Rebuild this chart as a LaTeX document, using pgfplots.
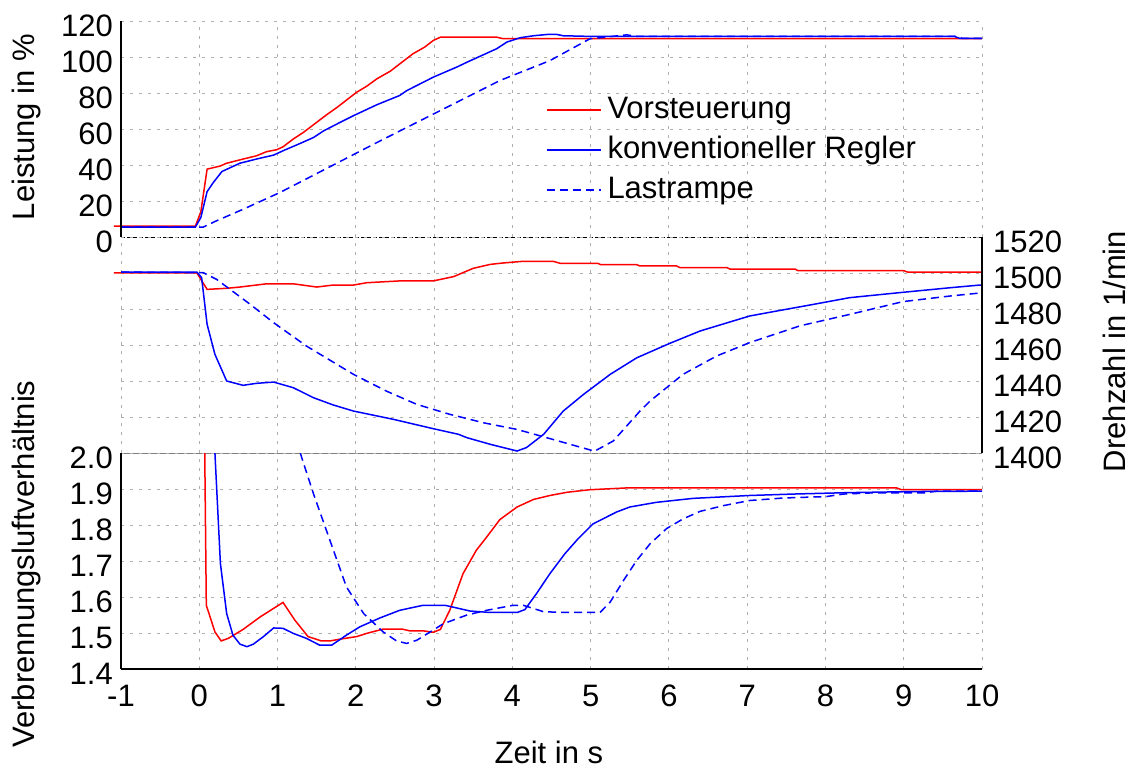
\documentclass[border=0pt]{standalone}
\usepackage{fontspec}
\setmainfont{Liberation Sans}
\usepackage{pgfplots}
\pgfplotsset{compat=1.18}
\newcommand\bigfont{\fontsize{31}{37}\selectfont}
\definecolor{gridgray}{RGB}{175,175,175}
\pgfplotsset{
  panel/.style={
    scale only axis, width=861pt, height=216pt,
    xmin=-1, xmax=10, xtick={-1,0,...,10},
    axis line style={draw=none}, major tick length=0pt,
    grid=major, grid style={gridgray, line width=0.9pt, dash pattern=on 3pt off 6pt},
    clip=false,
    every tick label/.append style={font=\bigfont},
    yticklabel style={inner sep=0pt, yshift=-5pt},
  },
  red line/.style={color={rgb,255:red,255;green,0;blue,0}, line width=1.5pt},
  blue line/.style={color={rgb,255:red,0;green,0;blue,255}, line width=1.5pt},
  blue dash/.style={color={rgb,255:red,0;green,0;blue,255}, line width=1.5pt, dash pattern=on 8pt off 5pt},
}
\begin{document}
\begin{tikzpicture}
\useasboundingbox (0,0) rectangle (1132pt,769pt);
% ---------------- top panel: Leistung
\begin{axis}[panel, at={(121pt,532pt)}, anchor=south west,
  ymin=0, ymax=120, ytick={0,20,...,120}, yticklabels={0,20,40,60,80,100,120},
  xticklabels={},
  yticklabel style={anchor=east, xshift=-8pt},
  ylabel={Leistung in \%},
  every axis y label/.style={at={(axis description cs:-0.1007,0.509)}, rotate=90, anchor=base, font=\bigfont, inner sep=0pt},
  legend style={at={(axis description cs:0.4936,0.652)}, anchor=north west, draw=none, fill=none,
    inner sep=0pt, outer sep=0pt, row sep=10pt, column sep=6pt, font=\bigfont,
    nodes={inner sep=0pt, text height=22pt, text depth=8pt}},
  legend cell align=left,
  legend image code/.code={\draw[#1] (0pt,1pt) -- (54pt,1pt);},
]
\addplot[red line] coordinates {(-1.09,6) (-0.05,6) (0.02,14) (0.10,37.7) (0.265,39.4) (0.35,41) (0.56,43.3) (0.73,45.1) (0.86,47.4) (0.99,48.5) (1.07,50.1) (1.20,54.4) (1.33,58.1) (1.63,68) (1.76,72) (2.01,80.4) (2.14,83.8) (2.27,87.9) (2.44,92.1) (2.73,101.8) (2.88,105.5) (2.99,109.2) (3.08,111) (3.80,111) (3.88,110.2) (10,110.2)};
\addlegendentry{Vorsteuerung}
\addplot[blue line] coordinates {(-1,5.5) (-0.05,5.5) (0.02,10.8) (0.10,25.2) (0.18,30.3) (0.29,36.4) (0.52,41) (0.73,43.3) (0.95,45.5) (1.07,47.9) (1.29,52) (1.46,55.3) (1.59,59) (1.80,63.7) (1.97,67.4) (2.27,73.5) (2.56,78.6) (2.65,81.3) (2.99,88.8) (3.29,94.4) (3.42,97.1) (3.80,104.6) (3.93,108.3) (4.10,110.7) (4.27,111.8) (4.44,112.5) (4.57,112.5) (4.65,111.8) (5.03,111.4) (9.65,111.4) (9.72,110.3) (10,110.3)};
\addlegendentry{konventioneller Regler}
\addplot[blue dash] coordinates {(-1,5.5) (0.05,5.5) (0.22,9) (0.56,15.4) (1.03,24.7) (2.27,52.5) (3.84,86.9) (4.48,98) (4.99,110.1) (5.46,112.3) (5.6,111.4) (9.68,111.4) (9.75,110.3) (10,110.3)};
\addlegendentry{Lastrampe}
\draw[black, line width=1.2pt] (rel axis cs:0,0) -- (rel axis cs:0,1);
\draw[black, line width=0.8pt, dash pattern=on 4pt off 2pt] (rel axis cs:0,0) -- (rel axis cs:1,0);
\end{axis}
% ---------------- middle panel: Drehzahl
\begin{axis}[panel, at={(121pt,316pt)}, anchor=south west,
  ymin=1400, ymax=1520, ytick={1400,1420,...,1520}, yticklabels={1400,1420,1440,1460,1480,1500,1520},
  xticklabels={},
  yticklabel pos=right,
  yticklabel style={anchor=west, xshift=11pt},
  ylabel={Drehzahl in 1/min},
  every axis y label/.style={at={(axis description cs:1.1661,0.47)}, rotate=90, anchor=base, font=\bigfont, inner sep=0pt},
]
\addplot[red line] coordinates {(-1.09,1500) (-0.03,1500) (0.10,1490.9) (0.35,1491.5) (0.52,1492.2) (0.86,1494) (1.20,1494) (1.50,1492.2) (1.71,1493.3) (1.97,1493.3) (2.14,1494.6) (2.56,1495.6) (2.99,1495.6) (3.25,1498) (3.50,1502.6) (3.72,1504.8) (3.89,1505.6) (4.14,1506.5) (4.52,1506.5) (4.61,1505.4) (5.09,1505.4) (5.13,1504.6) (5.59,1504.6) (5.63,1503.9) (6.10,1503.9) (6.14,1503) (6.74,1503) (6.78,1502.2) (7.61,1502.2) (7.65,1501.3) (9.0,1501.3) (9.05,1500.5) (10,1500.5)};
\addplot[blue line] coordinates {(-1,1500.5) (-0.03,1500.5) (0.03,1497.4) (0.10,1471.5) (0.20,1454.8) (0.35,1440) (0.56,1437.6) (0.73,1438.7) (0.95,1439.4) (1.20,1436.3) (1.46,1430.7) (1.71,1426.7) (1.97,1423.3) (2.48,1418.7) (2.99,1413.5) (3.31,1410.4) (3.42,1408.5) (3.72,1404.8) (4.06,1401.1) (4.18,1403) (4.40,1410.4) (4.65,1423.3) (4.91,1432.6) (5.25,1443.7) (5.59,1452.9) (6.01,1460.9) (6.40,1467.8) (7.03,1476.1) (7.38,1478.9) (7.80,1482.2) (8.31,1486.3) (8.95,1489.1) (9.59,1491.8) (9.97,1493.3) (10,1493.3)};
\addplot[blue dash] coordinates {(-1,1500.5) (0.05,1500.2) (0.22,1496.5) (0.65,1482.6) (0.95,1472.4) (1.37,1459.4) (1.97,1443.7) (2.39,1434.4) (2.78,1427) (3.20,1421.5) (3.63,1416.8) (4.06,1413.1) (4.48,1408) (5.05,1401) (5.29,1406.7) (5.63,1423.3) (5.76,1428.9) (6.18,1443.7) (6.61,1453.9) (7.03,1461.3) (7.67,1470.6) (8.31,1477) (8.99,1484.1) (9.59,1487.2) (10,1489)};
\draw[black, line width=1.2pt] (rel axis cs:1,0) -- (rel axis cs:1,1);
\draw[gray, line width=0.9pt] (rel axis cs:0,0) -- (rel axis cs:1,0);
\end{axis}
% ---------------- bottom panel: Verbrennungsluftverhaeltnis
\begin{axis}[panel, at={(121pt,100pt)}, anchor=south west,
  ymin=1.4, ymax=2.0, ytick={1.4,1.5,...,2.0}, yticklabels={1.4,1.5,1.6,1.7,1.8,1.9,2.0},
  xticklabels={-1,0,1,2,3,4,5,6,7,8,9,10},
  xticklabel style={anchor=north, inner sep=0pt, yshift=-16pt},
  yticklabel style={anchor=east, xshift=-8pt},
  ylabel={Verbrennungsluftverhältnis},
  every axis y label/.style={at={(axis description cs:-0.0999,0.486)}, rotate=90, anchor=base, font=\bigfont, inner sep=0pt},
  xlabel={Zeit in s},
  every axis x label/.style={at={(axis description cs:0.497,-0.437)}, anchor=base, font=\bigfont, inner sep=0pt},
  clip=true,
]
\addplot[red line] coordinates {(0.07,2.05) (0.07,2.0) (0.09,1.577) (0.20,1.503) (0.28,1.478) (0.37,1.485) (0.56,1.510) (0.78,1.545) (1.07,1.585) (1.22,1.536) (1.39,1.490) (1.56,1.478) (1.67,1.478) (1.80,1.483) (2.01,1.490) (2.14,1.499) (2.35,1.511) (2.59,1.511) (2.69,1.506) (2.86,1.506) (2.99,1.502) (3.08,1.510) (3.20,1.563) (3.37,1.665) (3.54,1.730) (3.67,1.766) (3.84,1.815) (4.06,1.850) (4.27,1.871) (4.48,1.882) (4.70,1.891) (4.99,1.898) (5.46,1.903) (8.91,1.903) (8.97,1.898) (10,1.898)};
\addplot[blue line] coordinates {(0.19,2.05) (0.20,2.0) (0.27,1.693) (0.35,1.554) (0.43,1.494) (0.52,1.469) (0.61,1.462) (0.69,1.469) (0.82,1.490) (0.95,1.514) (1.07,1.513) (1.20,1.499) (1.37,1.485) (1.54,1.466) (1.69,1.466) (1.88,1.494) (2.05,1.517) (2.31,1.542) (2.56,1.563) (2.86,1.577) (3.14,1.577) (3.46,1.561) (3.72,1.557) (4.06,1.557) (4.16,1.565) (4.31,1.610) (4.48,1.665) (4.67,1.720) (4.84,1.762) (5.03,1.803) (5.33,1.836) (5.50,1.850) (5.84,1.863) (6.31,1.874) (7.03,1.882) (7.59,1.886) (8.31,1.890) (9.16,1.893) (10,1.894)};
\addplot[blue dash] coordinates {(1.29,2.0) (1.46,1.886) (1.67,1.757) (1.88,1.628) (2.10,1.554) (2.35,1.503) (2.52,1.478) (2.65,1.471) (2.78,1.480) (2.95,1.503) (3.12,1.526) (3.42,1.550) (3.67,1.563) (4.01,1.577) (4.14,1.577) (4.40,1.559) (4.70,1.557) (5.12,1.557) (5.25,1.586) (5.42,1.646) (5.59,1.702) (5.76,1.748) (5.97,1.790) (6.18,1.817) (6.40,1.838) (6.70,1.854) (7.03,1.868) (7.46,1.875) (8.01,1.879) (8.23,1.886) (8.57,1.889) (9.25,1.889) (9.42,1.894) (10,1.894)};
\end{axis}
% spines of the bottom panel drawn outside the clip
\begin{axis}[panel, at={(121pt,100pt)}, anchor=south west, ymin=1.4, ymax=2.0, grid=none, xtick=\empty, ytick=\empty]
\draw[black, line width=1.2pt] (rel axis cs:0,0) -- (rel axis cs:0,1);
\draw[black, line width=1.6pt] (rel axis cs:0,0) -- (rel axis cs:1,0);
\end{axis}
\end{tikzpicture}
\end{document}
